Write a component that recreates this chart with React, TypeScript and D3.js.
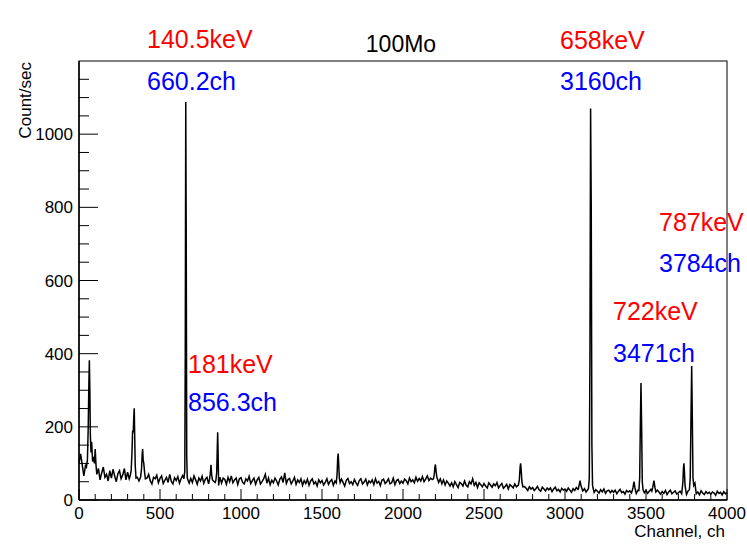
import React from 'react';
import * as d3 from 'd3';

// Spectrum baseline, one value every 10 channels (0..4000)
const baseStep = 10;
const baseline: number[] = [
  100, 126, 96, 66, 94, 84, 200, 150, 112, 104,
  132, 64, 86, 55, 74, 90, 62, 70, 52, 80,
  60, 84, 66, 50, 72, 80, 58, 68, 86, 55,
  76, 58, 70, 80, 90, 70, 62, 52, 75, 82,
  66, 48, 60, 70, 52, 44, 62, 58, 68, 47,
  59, 66, 45, 54, 62, 48, 70, 51, 44, 61,
  53, 64, 46, 58, 67, 46, 62, 52, 46, 59,
  48, 66, 55, 43, 60, 52, 65, 46, 57, 62,
  44, 70, 60, 52, 48, 58, 54, 62, 46, 60,
  56, 43, 62, 50, 66, 47, 55, 60, 42, 58,
  61, 48, 44, 58, 52, 65, 45, 53, 60, 43,
  55, 62, 44, 50, 58, 70, 46, 60, 42, 54,
  47, 60, 52, 41, 57, 63, 48, 74, 45, 56,
  59, 44, 52, 62, 43, 55, 48, 58, 40, 53,
  45, 57, 40, 52, 58, 44, 50, 38, 55, 47,
  53, 41, 48, 58, 43, 51, 56, 40, 52, 46,
  50, 44, 57, 48, 38, 54, 59, 45, 50, 42,
  56, 47, 40, 53, 58, 44, 49, 57, 41, 52,
  47, 55, 42, 58, 46, 51, 39, 54, 57, 45,
  50, 58, 44, 47, 60, 42, 53, 56, 45, 52,
  46, 57, 53, 44, 60, 50, 55, 47, 62, 51,
  59, 52, 64, 50, 57, 66, 53, 60, 56, 52,
  70, 62, 48, 58, 44, 55, 41, 52, 46, 38,
  47, 36, 50, 42, 34, 48, 45, 38, 52, 40,
  36, 50, 44, 58, 40, 48, 34, 47, 42, 36,
  45, 38, 33, 47, 41, 35, 44, 39, 48, 33,
  40, 45, 32, 37, 43, 30, 42, 38, 33, 44,
  36, 40, 45, 38, 27, 37, 32, 26, 36, 30,
  34, 26, 31, 37, 28, 24, 35, 30, 25, 33,
  28, 33, 23, 30, 35, 25, 29, 22, 32, 27,
  30, 24, 33, 27, 21, 31, 26, 34, 29, 50,
  34, 25, 31, 22, 28, 60, 300, 900, 21, 28,
  24, 19, 28, 22, 30, 18, 25, 27, 20, 26,
  21, 27, 17, 24, 29, 20, 23, 16, 26, 22,
  25, 19, 30, 40, 18, 27, 35, 32, 24, 20,
  26, 18, 24, 29, 35, 40, 19, 27, 22, 16,
  23, 18, 26, 15, 22, 27, 17, 21, 25, 16,
  20, 24, 17, 45, 40, 15, 25, 50, 40, 30,
  30, 17, 22, 14, 25, 19, 15, 23, 18, 21,
  16, 22, 19, 13, 24, 18, 21, 14, 23, 17,
  19,
];

// Peaks: [channel, count] points
const peaks: [number, number][][] = [
  [[46, 90], [52, 110], [57, 200], [61, 320], [64, 382], [67, 300], [70, 180], [74, 130], [78, 159], [84, 105], [90, 118], [95, 100], [100, 139], [105, 95], [110, 70]],
  [[316, 66], [322, 80], [327, 130], [331, 190], [335, 185], [338, 225], [341, 251], [344, 170], [347, 95], [352, 60]],
  [[380, 62], [386, 85], [390, 125], [393, 139], [396, 110], [400, 100], [405, 75], [410, 58]],
  [[648, 58], [653, 80], [656, 400], [659, 1088], [662, 700], [665, 120], [668, 62], [672, 55]],
  [[805, 55], [810, 70], [815, 96], [819, 68], [824, 55]],
  [[845, 54], [850, 75], [853, 130], [856, 185], [859, 120], [862, 40], [866, 54]],
  [[1588, 47], [1593, 70], [1597, 115], [1600, 127], [1603, 100], [1607, 60], [1612, 48]],
  [[2188, 58], [2193, 70], [2197, 90], [2200, 97], [2204, 80], [2209, 62], [2214, 56]],
  [[2712, 40], [2718, 55], [2723, 90], [2726, 100], [2729, 85], [2734, 50], [2740, 36]],
  [[3082, 30], [3088, 42], [3093, 53], [3098, 40], [3104, 32]],
  [[3145, 32], [3150, 60], [3154, 400], [3158, 1070], [3162, 800], [3166, 150], [3170, 40], [3176, 28]],
  [[3415, 25], [3420, 35], [3426, 50], [3431, 35], [3436, 24]],
  [[3456, 26], [3461, 60], [3465, 200], [3469, 320], [3473, 200], [3477, 50], [3482, 28]],
  [[3536, 24], [3542, 35], [3549, 53], [3555, 35], [3561, 22]],
  [[3722, 24], [3728, 50], [3731, 85], [3734, 100], [3737, 80], [3741, 40], [3746, 25]],
  [[3768, 28], [3773, 60], [3777, 200], [3782, 366], [3786, 220], [3790, 60], [3795, 40], [3802, 46], [3808, 25]],
];

const xMajorTicks = [0, 500, 1000, 1500, 2000, 2500, 3000, 3500, 4000];
const yMajorTicks = [0, 200, 400, 600, 800, 1000];
const xDomain = [0, 4000];
const yDomain = [0, 1200];

const title = '100Mo';
const energyLabels = ['140.5keV', '658keV', '181keV', '722keV', '787keV'];
const channelLabels = ['660.2ch', '3160ch', '856.3ch', '3471ch', '3784ch'];

// layout
const W = 747, H = 550;
const L = 79, R = 727, T = 61, B = 500;
const labelPos = [
  { x: 147, ye: 48, yc: 90 },
  { x: 560, ye: 49, yc: 90 },
  { x: 188, ye: 373, yc: 411 },
  { x: 613, ye: 320, yc: 362 },
  { x: 659, ye: 231, yc: 272 },
];
const FONT = '"Liberation Sans", Arial, Helvetica, sans-serif';

export default function App() {
  const x = d3.scaleLinear().domain(xDomain).range([L, R]);
  const y = d3.scaleLinear().domain(yDomain).range([B, T]);

  const ranges = peaks.map((p) => [p[0][0], p[p.length - 1][0]]);
  const pts: [number, number][] = baseline
    .map((v, i) => [i * baseStep, v] as [number, number])
    .filter(([c]) => !ranges.some(([a, b]) => c >= a && c <= b));
  peaks.forEach((p) => pts.push(...p));
  pts.sort((a, b) => a[0] - b[0]);

  const line = d3
    .line<[number, number]>()
    .x((d) => x(d[0]))
    .y((d) => y(d[1]));

  const xMinor = d3.range(0, 4001, 100).filter((v) => v % 500 !== 0);
  const yMinor = d3.range(0, 1201, 50).filter((v) => v % 200 !== 0);

  return (
    <svg
      width={W}
      height={H}
      style={{ position: 'absolute', left: 0, top: 0, background: '#fff' }}
      fontFamily={FONT}
    >
      <rect x={0} y={0} width={W} height={H} fill="#fff" />
      {/* frame */}
      <rect x={L} y={T} width={R - L} height={B - T} fill="none" stroke="#000" strokeWidth={1} />
      {/* spectrum */}
      <path d={line(pts) || ''} fill="none" stroke="#000" strokeWidth={1.5} strokeLinejoin="miter" />
      {/* x axis */}
      <line x1={L} x2={R} y1={B} y2={B} stroke="#000" strokeWidth={1.5} />
      {xMajorTicks.map((t) => (
        <g key={'xm' + t}>
          <line x1={x(t)} x2={x(t)} y1={B} y2={B - 11} stroke="#000" strokeWidth={1} />
          <text x={x(t)} y={519} fontSize={17} textAnchor="middle" fill="#000">
            {t}
          </text>
        </g>
      ))}
      {xMinor.map((t) => (
        <line key={'xn' + t} x1={x(t)} x2={x(t)} y1={B} y2={B - 6} stroke="#000" strokeWidth={1} />
      ))}
      {/* y axis */}
      <line x1={L} x2={L} y1={B} y2={T} stroke="#000" strokeWidth={1.5} />
      {yMajorTicks.map((t) => (
        <g key={'ym' + t}>
          <line x1={L} x2={L + 19} y1={y(t)} y2={y(t)} stroke="#000" strokeWidth={1} />
          <text x={73} y={y(t) + 6} fontSize={17} textAnchor="end" fill="#000">
            {t}
          </text>
        </g>
      ))}
      {yMinor.map((t) => (
        <line key={'yn' + t} x1={L} x2={L + 10} y1={y(t)} y2={y(t)} stroke="#000" strokeWidth={1} />
      ))}
      {/* axis titles */}
      <text x={725} y={537} fontSize={17} textAnchor="end" fill="#000">
        Channel, ch
      </text>
      <text
        transform={`translate(31,62) rotate(-90)`}
        fontSize={17}
        textAnchor="end"
        fill="#000"
      >
        Count/sec
      </text>
      {/* title */}
      <text x={401} y={52} fontSize={23} textAnchor="middle" fill="#000">
        {title}
      </text>
      {/* peak annotations */}
      {labelPos.map((p, i) => (
        <g key={'lab' + i}>
          <text x={p.x} y={p.ye} fontSize={25} fill="#ff0000">
            {energyLabels[i]}
          </text>
          <text x={p.x} y={p.yc} fontSize={25} fill="#0000ff">
            {channelLabels[i]}
          </text>
        </g>
      ))}
    </svg>
  );
}
